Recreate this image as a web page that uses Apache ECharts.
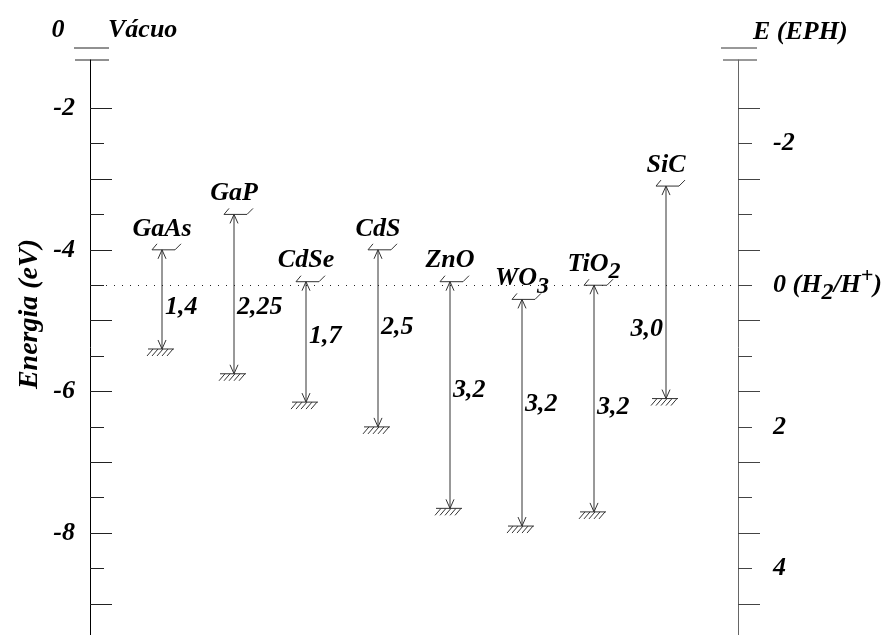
<!DOCTYPE html>
<html>
<head>
<meta charset="utf-8">
<script src="https://cdn.jsdelivr.net/npm/echarts@6/dist/echarts.min.js"></script>
<style>
  html, body { margin: 0; padding: 0; background: #ffffff; }
  #chart { width: 890px; height: 635px; }
</style>
</head>
<body>
<div id="chart"></div>
<script>
// Band positions of common semiconductors relative to vacuum (eV)
const materials = ['GaAs', 'GaP', 'CdSe', 'CdS', 'ZnO', 'WO3', 'TiO2', 'SiC'];
const conductionBand = [-4.0, -3.5, -4.45, -4.0, -4.45, -4.7, -4.5, -3.1];
const bandGap = [1.4, 2.25, 1.7, 2.5, 3.2, 3.2, 3.2, 3.0];

// H2/H+ reference level on the vacuum scale
const hydrogenLevel = -4.5;

// Axis ticks and labels (vacuum scale, eV)
const leftMajorTicks = [-9, -8, -7, -6, -5, -4, -3, -2];
const leftMinorTicks = [-9.5, -8.5, -7.5, -6.5, -5.5, -4.5, -3.5, -2.5];
const leftTickLabels = [-8, -6, -4, -2];
// Electrochemical scale labels (E vs EPH)
const rightTickLabels = [-2, 0, 2, 4];

// Vertical placement tweaks for the gap labels (px) and which side they sit on
const gapLabelShift = [8, 13, -6, -11, -5, -8, 9, 37];
const gapLabelLeft = [false, false, false, false, false, false, false, true];

const FONT = 'Liberation Serif';
const INK = '#000000';
const LINE = '#333333';

const chart = echarts.init(document.getElementById('chart'), null, { renderer: 'canvas' });

const yMin = -9.44, yMax = -1.32;
const pxPerEv = 70.83;
const gridTop = 60;
const gridLeft = 90, gridWidth = 648;

function fmtGap(v) {
  const s = (Math.round(v * 100) % 10 !== 0) ? v.toFixed(2) : v.toFixed(1);
  return s.replace('.', ',');
}
function richFormula(name) {
  return name.replace(/(\d+)/g, '{sub|$1}');
}

const baseText = { fontFamily: FONT, fontStyle: 'italic', fontWeight: 'bold', fontSize: 26 };
const richTokens = {
  sub: { fontFamily: FONT, fontStyle: 'italic', fontWeight: 'bold', fontSize: 24, fill: INK, color: INK, verticalAlign: 'bottom', lineHeight: 40 },
  sup: { fontFamily: FONT, fontStyle: 'italic', fontWeight: 'bold', fontSize: 22, fill: INK, color: INK, verticalAlign: 'top', lineHeight: 30 }
};

const bandData = materials.map((m, i) => [i + 1, conductionBand[i], conductionBand[i] - bandGap[i], i]);

function renderBand(params, api) {
  const idx = api.value(3);
  const top = api.coord([api.value(0), api.value(1)]);
  const bot = api.coord([api.value(0), api.value(2)]);
  const x = top[0], yc = top[1], yv = bot[1];
  const stroke = { stroke: LINE, lineWidth: 1, fill: null };
  const children = [];
  // double-headed arrow spanning the gap
  children.push({ type: 'line', shape: { x1: x, y1: yc, x2: x, y2: yv }, style: stroke });
  children.push({ type: 'polyline', shape: { points: [[x - 4, yc + 9], [x, yc], [x + 4, yc + 9]] }, style: stroke });
  children.push({ type: 'polyline', shape: { points: [[x - 4, yv - 9], [x, yv], [x + 4, yv - 9]] }, style: stroke });
  // conduction band edge marker
  children.push({ type: 'polyline', shape: { points: [[x - 5, yc - 6], [x - 10, yc], [x + 13, yc], [x + 19, yc - 6]] }, style: stroke });
  // valence band edge with hatching
  children.push({ type: 'line', shape: { x1: x - 14, y1: yv, x2: x + 12, y2: yv }, style: stroke });
  for (let k = 0; k < 5; k++) {
    const hx = x - 9 + 5 * k;
    children.push({ type: 'line', shape: { x1: hx, y1: yv, x2: hx - 6, y2: yv + 7 }, style: stroke });
  }
  // material name
  children.push({
    type: 'text',
    style: Object.assign({}, baseText, {
      text: richFormula(materials[idx]), rich: richTokens, fill: INK,
      x: x, y: yc - 21, align: 'center', verticalAlign: 'middle'
    })
  });
  // band gap value
  const left = gapLabelLeft[idx];
  children.push({
    type: 'text',
    style: Object.assign({}, baseText, {
      text: fmtGap(bandGap[idx]), fill: INK,
      x: left ? x - 3 : x + 3, y: (yc + yv) / 2 + gapLabelShift[idx],
      align: left ? 'right' : 'left', verticalAlign: 'middle'
    })
  });
  return { type: 'group', children: children };
}

const axisFont = { fontFamily: FONT, fontStyle: 'italic', fontWeight: 'bold', fontSize: 26, color: INK };

const option = {
  animation: false,
  backgroundColor: '#ffffff',
  grid: {
    left: gridLeft, top: gridTop, width: gridWidth, height: (yMax - yMin) * pxPerEv,
    containLabel: false, outerBoundsMode: 'none'
  },
  xAxis: { type: 'value', min: 0, max: 9, show: false },
  yAxis: [
    {
      type: 'value', position: 'left', min: yMin, max: yMax,
      axisLine: { show: true, lineStyle: { color: '#000', width: 1 } },
      axisTick: { show: true, inside: true, length: 22, customValues: leftMajorTicks, lineStyle: { color: '#222', width: 1 } },
      axisLabel: { show: true, margin: 15, customValues: leftTickLabels, formatter: v => String(v), ...axisFont },
      splitLine: { show: false }
    },
    {
      type: 'value', position: 'left', min: yMin, max: yMax,
      axisLine: { show: false },
      axisTick: { show: true, inside: true, length: 14, customValues: leftMinorTicks, lineStyle: { color: '#222', width: 1 } },
      axisLabel: { show: false },
      splitLine: { show: false }
    },
    {
      type: 'value', position: 'right', min: yMin, max: yMax,
      axisLine: { show: true, lineStyle: { color: '#666', width: 1 } },
      axisTick: { show: true, inside: false, length: 22, customValues: leftMajorTicks, lineStyle: { color: '#444', width: 1 } },
      axisLabel: {
        show: true, margin: 35, align: 'left',
        customValues: rightTickLabels.map(e => hydrogenLevel - e),
        formatter: v => {
          const e = Math.round((hydrogenLevel - v) * 10) / 10;
          return e === 0 ? '0 (H{sub|2}/H{sup|+})' : String(e);
        },
        rich: {
          sub: { fontFamily: FONT, fontStyle: 'italic', fontWeight: 'bold', fontSize: 24, color: INK, verticalAlign: 'bottom', lineHeight: 40 },
          sup: { fontFamily: FONT, fontStyle: 'italic', fontWeight: 'bold', fontSize: 22, color: INK, verticalAlign: 'top', lineHeight: 30 }
        },
        ...axisFont
      },
      splitLine: { show: false }
    },
    {
      type: 'value', position: 'right', min: yMin, max: yMax,
      axisLine: { show: false },
      axisTick: { show: true, inside: false, length: 14, customValues: leftMinorTicks, lineStyle: { color: '#444', width: 1 } },
      axisLabel: { show: false },
      splitLine: { show: false }
    }
  ],
  graphic: [
    // axis break marks at the vacuum end
    { type: 'line', shape: { x1: 74, y1: 48, x2: 109, y2: 48 }, style: { stroke: '#222', lineWidth: 1 } },
    { type: 'line', shape: { x1: 75, y1: 60, x2: 109, y2: 60 }, style: { stroke: '#222', lineWidth: 1 } },
    { type: 'line', shape: { x1: 721, y1: 48, x2: 757, y2: 48 }, style: { stroke: '#333', lineWidth: 1 } },
    { type: 'line', shape: { x1: 723, y1: 60, x2: 757, y2: 60 }, style: { stroke: '#333', lineWidth: 1 } },
    { type: 'text', style: { text: '0', x: 58, y: 30, align: 'center', verticalAlign: 'middle', fill: INK, ...baseText } },
    { type: 'text', style: { text: 'Vácuo', x: 108, y: 30, align: 'left', verticalAlign: 'middle', fill: INK, ...baseText } },
    { type: 'text', style: { text: 'E (EPH)', x: 753, y: 32, align: 'left', verticalAlign: 'middle', fill: INK, ...baseText } },
    {
      type: 'text', x: 30, y: 314, rotation: Math.PI / 2,
      style: { text: 'Energia (eV)', x: 0, y: 0, align: 'center', verticalAlign: 'middle', fill: INK, ...baseText, fontSize: 28 }
    }
  ],
  series: [
    {
      type: 'custom',
      xAxisIndex: 0, yAxisIndex: 0,
      data: bandData,
      renderItem: renderBand,
      clip: false,
      markLine: {
        silent: true, symbol: 'none', label: { show: false },
        lineStyle: { type: [1, 7], color: '#222', width: 1 },
        data: [{ yAxis: hydrogenLevel }]
      }
    }
  ]
};

chart.setOption(option);
</script>
</body>
</html>
